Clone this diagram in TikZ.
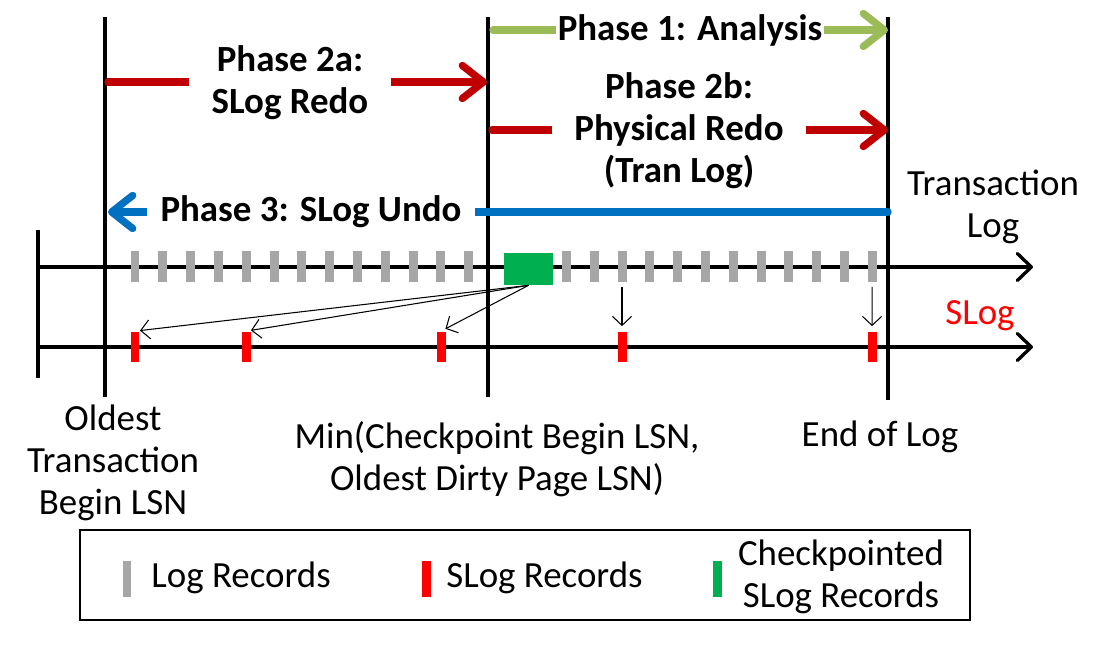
\documentclass[tikz,border=0pt]{standalone}
\usepackage{fontspec}
\setmainfont{Carlito}
\usepackage{xcolor}
\usetikzlibrary{arrows.meta, positioning}

\definecolor{recGray}{HTML}{A6A6A6}
\definecolor{recRed}{HTML}{FF0000}
\definecolor{recGreen}{HTML}{00B050}
\definecolor{phGreen}{HTML}{9BBB59}
\definecolor{phRed}{HTML}{C00000}
\definecolor{phBlue}{HTML}{0070C0}

\begin{document}
\begin{tikzpicture}[
    x=0.02cm, y=-0.02cm,
    % Estilos
    txt/.style={font=\fontsize{21}{24}\selectfont, align=center, inner sep=0pt},
    phaseTxt/.style={font=\fontsize{21}{24}\selectfont\bfseries, align=center, fill=white, inner ysep=1pt},
    barra/.style={draw=black, line width=1.9pt},
    eixo/.style={draw=black, line width=1.9pt, -{Straight Barb[length=2.8mm, width=5.4mm, round]}},
    fase/.style={line width=4.2pt, line cap=round, -{Straight Barb[length=4.2mm, width=6.6mm, round]}},
    fino/.style={draw=black, line width=0.6pt, -{Straight Barb[length=1.8mm, width=3.8mm]}, shorten >=0.1cm},
    logRec/.style={rectangle, fill=recGray, minimum width=0.18cm, minimum height=0.62cm, inner sep=0pt},
    slogRec/.style={logRec, fill=recRed},
    ckptRec/.style={rectangle, fill=recGreen, minimum width=0.98cm, minimum height=0.64cm, inner sep=0pt}
]
\useasboundingbox (0,0) rectangle (1110,658);

% ==========================
% POSICOES X DAS BARRAS
% ==========================
\def\XO{105}
\def\XM{488}
\def\XE{888}

\coordinate (leftTop) at (38,230);  \coordinate (leftBot) at (38,378);
\coordinate (oldTop) at (\XO,17);   \coordinate (oldBot) at (\XO,397);
\coordinate (minTop) at (\XM,17);   \coordinate (minBot) at (\XM,397);
\coordinate (endTop) at (\XE,17);   \coordinate (endBot) at (\XE,400);

% Eixos (Transaction Log / SLog)
\coordinate (tlogL) at (38,267);  \coordinate (tlogR) at (1033,267);
\coordinate (slogL) at (38,347);  \coordinate (slogR) at (1033,347);
\draw[eixo] (tlogL) -- (tlogR);
\draw[eixo] (slogL) -- (slogR);

% Barras verticais
\draw[barra] (leftTop) -- (leftBot);
\draw[barra] (oldTop) -- (oldBot);
\draw[barra] (minTop) -- (minBot);
\draw[barra] (endTop) -- (endBot);

% ==========================
% REGISTROS
% ==========================
\foreach \i in {0,...,12} { \node[logRec] (l\i) at (135+27.8*\i, 267) {}; }
\node[ckptRec] (ckpt) at (528.5,269) {};
\foreach \i in {0,...,11} { \node[logRec] (r\i) at (566.4+27.8*\i, 267) {}; }

\node[slogRec] (s1) at (135,347) {};
\node[slogRec] (s2) at (246,347) {};
\node[slogRec] (s3) at (441,347) {};
\node[slogRec] (s4) at (622,347) {};
\node[slogRec] (s5) at (872,347) {};

% Ligacoes finas
\draw[fino] (ckpt.south) -- (s1.north);
\draw[fino] (ckpt.south) -- (s2.north);
\draw[fino] (ckpt.south) -- (s3.north);
\draw[fino, shorten <=0.08cm] (r2.south) -- (s4.north);
\draw[fino, shorten <=0.08cm] (r11.south) -- (s5.north);

% ==========================
% FASES
% ==========================
\coordinate (p1s) at (493,30);  \coordinate (p1e) at (\XE,30);
\coordinate (p2as) at (108,82); \coordinate (p2ae) at (487,82);
\coordinate (p2bs) at (492,130); \coordinate (p2be) at (\XE,130);
\coordinate (p3s) at (\XE,212); \coordinate (p3e) at (108,212);

\draw[fase, phGreen] (p1s) -- (p1e);
\draw[fase, phRed] (p2as) -- (p2ae);
\draw[fase, phRed] (p2bs) -- (p2be);
\draw[fase, phBlue] (p3s) -- (p3e);

\node[phaseTxt, inner xsep=1pt] (p1lab) at (690,30) {Phase 1: Analysis};
\node[phaseTxt, inner xsep=0.45cm] (p2alab) at (290,83) {Phase 2a:\\SLog Redo};
\node[phaseTxt, inner xsep=0.45cm] (p2blab) at (679,131) {Phase 2b:\\Physical Redo\\(Tran Log)};
\node[phaseTxt, inner xsep=0.28cm] (p3lab) at (311,212) {Phase 3: SLog Undo};

% ==========================
% ROTULOS
% ==========================
\node[txt] (tlogLab) at (993,207) {Transaction\\Log};
\node[txt, text=recRed] (slogLab) at (980,316) {SLog};
\node[txt] (oldLab) at (113,463) {Oldest\\Transaction\\Begin LSN};
\node[txt] (minLab) at (497,459) {Min(Checkpoint Begin LSN,\\Oldest Dirty Page LSN)};
\node[txt] (endLab) at (880,437) {End of Log};

% ==========================
% LEGENDA
% ==========================
\draw[line width=1pt] (80,530) rectangle (970,620);
\node[logRec, minimum height=0.72cm] (legGray) at (127,579) {};
\node[txt, anchor=west] (legGrayTxt) at (151,578) {Log Records};
\node[slogRec, minimum height=0.72cm] (legRed) at (426,579) {};
\node[txt, anchor=west] (legRedTxt) at (446,578) {SLog Records};
\node[logRec, fill=recGreen, minimum height=0.72cm] (legGreen) at (717,579) {};
\node[txt] (legGreenTxt) at (841,577) {Checkpointed\\SLog Records};

\end{tikzpicture}
\end{document}
